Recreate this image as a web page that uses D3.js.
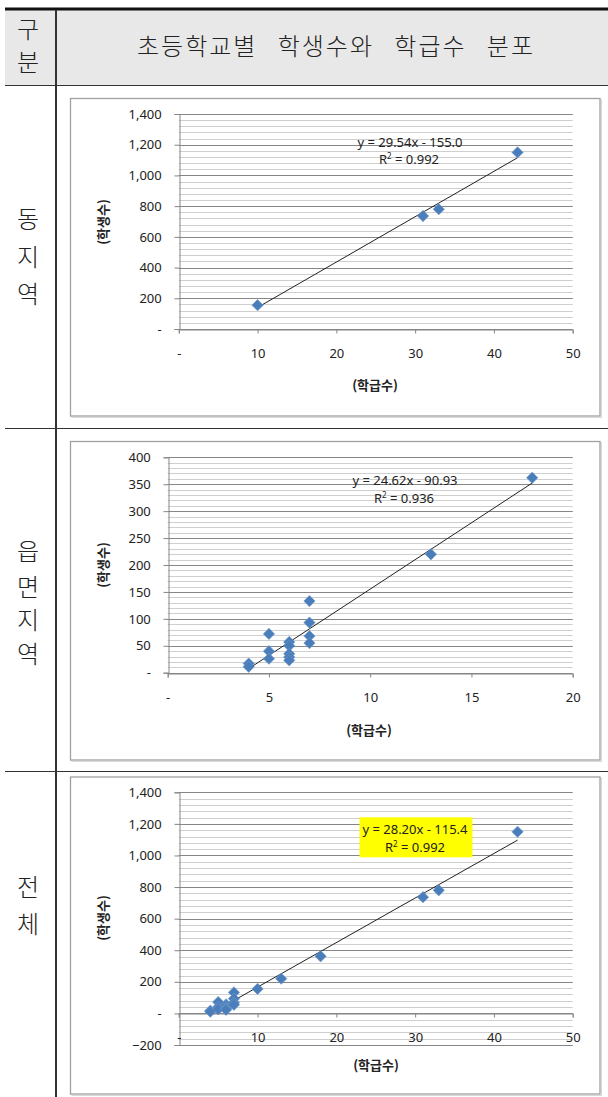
<!DOCTYPE html>
<html><head><meta charset="utf-8">
<script src="https://cdn.jsdelivr.net/npm/d3@7"></script>
<style>
body{margin:0;background:#fff;}
svg{display:block;}
</style></head>
<body>
<script>
// ---- data ----
const headerLabel = ["구", "분"];
const title = "초등학교별 학생수와 학급수 분포";
const rowLabels = [["동","지","역"], ["읍","면","지","역"], ["전","체"]];

const dongClasses = [10, 31, 33, 43];
const dongStudents = [155, 736, 780, 1150];

const eupClasses = [4, 4, 5, 5, 5, 6, 6, 6, 6, 6, 7, 7, 7, 7, 13, 18];
const eupStudents = [17, 11, 72, 40, 26, 57, 50, 35, 29, 23, 133, 93, 68, 55, 220, 362];

const totalClasses = dongClasses.concat(eupClasses);
const totalStudents = dongStudents.concat(eupStudents);

const slopes = [29.54, 24.62, 28.20];
const intercepts = [-155.0, -90.93, -115.4];
const eqLabels = ["y = 29.54x - 155.0", "y = 24.62x - 90.93", "y = 28.20x - 115.4"];
const r2Values = ["0.992", "0.936", "0.992"];

const xDomains = [[0, 50], [0, 20], [0, 50]];
const yDomains = [[0, 1400], [0, 400], [-200, 1400]];
const xTickValues = [[0,10,20,30,40,50],[0,5,10,15,20],[0,10,20,30,40,50]];
const yTickValues = [[0,200,400,600,800,1000,1200,1400],[0,50,100,150,200,250,300,350,400],[-200,0,200,400,600,800,1000,1200,1400]];
const yMinorStep = [40, 10, 40];

const xTitle = "(학급수)";
const yTitle = "(학생수)";

// ---- layout ----
const W = 608, H = 1097;
const svg = d3.select("body").append("svg").attr("width", W).attr("height", H);

const serif = "'Noto Sans CJK KR', sans-serif";
// header
svg.append("rect").attr("x",5).attr("y",10).attr("width",W-5).attr("height",75).attr("fill","#e8e8e8");
svg.append("rect").attr("x",5).attr("y",7.5).attr("width",W-5).attr("height",3).attr("fill","#111");
[85, 428, 771].forEach(y=>{
  svg.append("line").attr("x1",5).attr("x2",W).attr("y1",y+0.5).attr("y2",y+0.5).attr("stroke","#333").attr("stroke-width",1.2);
});
svg.append("line").attr("x1",56).attr("x2",56).attr("y1",10).attr("y2",H).attr("stroke","#333").attr("stroke-width",2);

svg.selectAll("text.hl").data(headerLabel).enter().append("text")
  .attr("x",28).attr("y",(d,i)=>30+i*33).attr("dy","0.35em")
  .attr("text-anchor","middle").attr("font-family",serif).attr("font-weight",300)
  .attr("font-size",24).attr("fill","#222").text(d=>d);
svg.append("text").attr("x",336).attr("y",47).attr("dy","0.35em").attr("text-anchor","middle")
  .attr("font-family",serif).attr("font-weight",300).attr("font-size",24).attr("fill","#222")
  .attr("letter-spacing",2).attr("word-spacing",13).text(title);

const rowLabelY = [[220,258,295],[552,588,621,655],[888,925]];
rowLabels.forEach((chars,r)=>{
  chars.forEach((c,i)=>{
    svg.append("text").attr("x",28).attr("y",rowLabelY[r][i]).attr("dy","0.35em")
      .attr("text-anchor","middle").attr("font-family",serif).attr("font-weight",300)
      .attr("font-size",24).attr("fill","#222").text(c);
  });
});

// ---- charts ----
const charts = [
  {xs: dongClasses, ys: dongStudents, frame:[70.5,98.5,600,416], plot:[178.8,114,572.7,329], xAxisY:0,
   yLabRight:161, xLabDy:24, xTitlePos:[375,385], yTitlePos:[103,222], eqPos:[410,142], r2Pos:[409,159], box:null},
  {xs: eupClasses, ys: eupStudents, frame:[70.5,441.5,600,760], plot:[167.7,457.3,572.7,672.7], xAxisY:0,
   yLabRight:150, xLabDy:24, xTitlePos:[369,730], yTitlePos:[103,565], eqPos:[405,480], r2Pos:[404,498], box:null},
  {xs: totalClasses, ys: totalStudents, frame:[70.5,777,600,1094], plot:[178.8,792.3,572.7,1045], xAxisY:0,
   yLabRight:161, xLabDy:24, xTitlePos:[376,1065], yTitlePos:[103,918], eqPos:[415,829.5], r2Pos:[415,847], box:[359.5,817.3,472.4,857.3]}
];

const numFont = "'Noto Sans', 'Open Sans', sans-serif";
const fmt = d3.format(",");

charts.forEach((c,k)=>{
  const g = svg.append("g");
  const [fx0,fy0,fx1,fy1] = c.frame;
  g.append("rect").attr("x",fx0+1.5).attr("y",fy0+1.5).attr("width",fx1-fx0).attr("height",fy1-fy0)
    .attr("fill","none").attr("stroke","#d8d8d8").attr("stroke-width",1);
  g.append("rect").attr("x",fx0).attr("y",fy0).attr("width",fx1-fx0).attr("height",fy1-fy0)
    .attr("fill","#fff").attr("stroke","#a0a0a0").attr("stroke-width",1.3);

  const [px0,py0,px1,py1] = c.plot;
  const x = d3.scaleLinear().domain(xDomains[k]).range([px0,px1]);
  const y = d3.scaleLinear().domain(yDomains[k]).range([py1,py0]);

  // minor gridlines
  const minor = d3.range(yDomains[k][0], yDomains[k][1]+0.001, yMinorStep[k]);
  g.selectAll("line.minor").data(minor).enter().append("line")
    .attr("x1",px0).attr("x2",px1).attr("y1",d=>Math.round(y(d))+0.5).attr("y2",d=>Math.round(y(d))+0.5)
    .attr("stroke","#cfcfcf").attr("stroke-width",1);
  // major gridlines
  g.selectAll("line.major").data(yTickValues[k]).enter().append("line")
    .attr("x1",px0).attr("x2",px1).attr("y1",d=>Math.round(y(d))+0.5).attr("y2",d=>Math.round(y(d))+0.5)
    .attr("stroke","#868686").attr("stroke-width",1);

  // y axis
  const yAxis = d3.axisLeft(y).tickValues(yTickValues[k]).tickSize(5).tickPadding(px0-c.yLabRight-5)
    .tickFormat(d=> d===0 ? "-" : fmt(d));
  const ya = g.append("g").attr("transform",`translate(${Math.round(px0)+0.5},0)`).call(yAxis);
  ya.select(".domain").attr("stroke","#868686");
  ya.selectAll(".tick line").attr("stroke","#868686");
  ya.selectAll(".tick text").attr("font-family",numFont).attr("font-size",13).attr("fill","#222");

  // x axis at y=0
  const axY = Math.round(y(c.xAxisY))+0.5;
  const xAxis = d3.axisBottom(x).tickValues(xTickValues[k]).tickSize(4)
    .tickFormat(d=> d===0 ? "-" : d);
  const xa = g.append("g").attr("transform",`translate(0,${axY})`).call(xAxis);
  xa.select(".domain").attr("stroke","#868686");
  xa.selectAll(".tick line").attr("stroke","#868686");
  xa.selectAll(".tick text").attr("font-family",numFont).attr("font-size",13).attr("fill","#222")
    .attr("y", c.xLabDy).attr("dy","0.35em");

  // trendline
  const xmin = d3.min(c.xs), xmax = d3.max(c.xs);
  g.append("line").attr("x1",x(xmin)).attr("y1",y(slopes[k]*xmin+intercepts[k]))
    .attr("x2",x(xmax)).attr("y2",y(slopes[k]*xmax+intercepts[k]))
    .attr("stroke","#222").attr("stroke-width",1);

  // points
  const pts = c.xs.map((v,i)=>[v,c.ys[i]]);
  g.selectAll("path.pt").data(pts).enter().append("path")
    .attr("d", d3.symbol().type(d3.symbolSquare).size(64))
    .attr("transform",d=>`translate(${x(d[0])},${y(d[1])}) rotate(45)`)
    .attr("fill","#4a7ebb").attr("stroke","#6f97cc").attr("stroke-width",0.6);

  // equation label
  if (c.box) {
    g.append("rect").attr("x",c.box[0]).attr("y",c.box[1]).attr("width",c.box[2]-c.box[0]).attr("height",c.box[3]-c.box[1])
      .attr("fill","#ffff00");
  }
  g.append("text").attr("x",c.eqPos[0]).attr("y",c.eqPos[1]).attr("dy","0.35em").attr("text-anchor","middle")
    .attr("font-family",numFont).attr("font-size",13).attr("fill","#222").text(eqLabels[k]);
  const r2 = g.append("text").attr("x",c.r2Pos[0]).attr("y",c.r2Pos[1]).attr("dy","0.35em").attr("text-anchor","middle")
    .attr("font-family",numFont).attr("font-size",13).attr("fill","#222");
  r2.append("tspan").text("R");
  r2.append("tspan").attr("font-size",8).attr("dy",-5).text("2");
  r2.append("tspan").attr("dy",5).text(" = " + r2Values[k]);

  // axis titles
  g.append("text").attr("x",c.xTitlePos[0]).attr("y",c.xTitlePos[1]).attr("dy","0.35em").attr("text-anchor","middle")
    .attr("font-family","'Noto Sans CJK KR', sans-serif").attr("font-weight","bold").attr("font-size",13).attr("fill","#222").text(xTitle);
  g.append("text").attr("transform",`translate(${c.yTitlePos[0]},${c.yTitlePos[1]}) rotate(-90)`).attr("dy","0.35em").attr("text-anchor","middle")
    .attr("font-family","'Noto Sans CJK KR', sans-serif").attr("font-weight","bold").attr("font-size",13).attr("fill","#222").text(yTitle);
});
</script>
</body></html>
